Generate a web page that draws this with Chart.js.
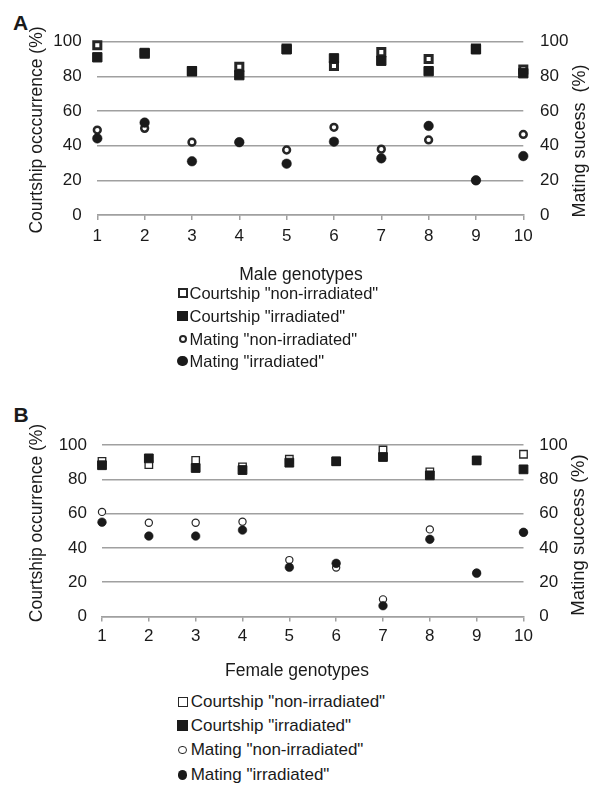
<!DOCTYPE html>
<html><head><meta charset="utf-8">
<script src="https://cdn.jsdelivr.net/npm/chart.js@4.4.1/dist/chart.umd.min.js"></script>
<style>
body{margin:0;background:#fff;}
#page{position:relative;width:597px;height:785px;overflow:hidden;font-family:Arial,"Liberation Sans",sans-serif;color:#1a1a1a;background:#fff;}
canvas{position:absolute;left:0;}
.panel{position:absolute;font-weight:bold;font-size:21px;line-height:21px;}
.leg{position:absolute;left:0;width:597px;height:20px;line-height:20px;white-space:nowrap;}
.mk{position:absolute;box-sizing:border-box;}
.tx{position:absolute;top:0;}
</style></head><body><div id="page">
<div class="panel" style="left:13px;top:12px">A</div>
<div class="panel" style="left:13.5px;top:404px">B</div>
<canvas id="cA" width="597" height="290" style="top:0"></canvas>
<canvas id="cB" width="597" height="300" style="top:390px"></canvas>
<div id="legA"></div><div id="legB"></div>
</div>
<script>
// ---------- data ----------
const genotypes = ['1','2','3','4','5','6','7','8','9','10'];
const yTickValues = [0, 20, 40, 60, 80, 100];
const seriesNames = ['Courtship "non-irradiated"', 'Courtship "irradiated"', 'Mating "non-irradiated"', 'Mating "irradiated"'];

// Panel A - male genotypes
const courtNonIrrA = [98, 93, 83, 85.5, 96, 86, 94, 90, 96, 84];
const courtIrrA    = [91, 93.5, 83, 80.7, 95.6, 90.4, 89, 83, 95.6, 81.8];
const matNonIrrA   = [49, 50, 42, 42, 37.5, 50.6, 38, 43.3, 20, 46.5];
const matIrrA      = [44.2, 53.3, 31, 42, 29.6, 42.3, 32.7, 51.4, 20, 34];

// Panel B - female genotypes
const courtNonIrrB = [90.5, 88.5, 91, 87.2, 91.7, 90.3, 97.1, 84.3, 91, 94.6];
const courtIrrB    = [88.2, 92.2, 86.6, 85.4, 89.7, 90.5, 93, 82.3, 91, 85.8];
const matNonIrrB   = [61, 54.7, 54.7, 55.3, 32.9, 28.5, 10, 50.8, 25.6, 49];
const matIrrB      = [55, 46.9, 46.9, 50.4, 28.7, 31, 6.3, 45, 25.2, 49.1];

const titlesA = {left:'Courtship occcurrence (%)', right:'Mating sucess  (%)', x:'Male genotypes'};
const titlesB = {left:'Courtship occurrence (%)', right:'Mating success (%)', x:'Female genotypes'};

// ---------- styling ----------
const TXT = '#1a1a1a';
const GRID = '#a0a0a0';
const FONT = 'Arial, "Liberation Sans", sans-serif';
Chart.defaults.font.family = FONT;
Chart.defaults.color = TXT;

const titlePlugin = {
  id: 'freeTitles',
  afterDraw(chart, args, opts) {
    const ctx = chart.ctx;
    (opts.items || []).forEach(t => {
      ctx.save();
      ctx.font = t.font;
      ctx.fillStyle = TXT;
      ctx.textAlign = 'center';
      ctx.textBaseline = 'middle';
      ctx.translate(t.x, t.y);
      if (t.rot) ctx.rotate(t.rot);
      ctx.fillText(t.text, 0, 0);
      ctx.restore();
    });
  }
};

const layoutA = {
  left: 97.3, right: 523.3, top: 41.7, xH: 75, lPad: 15.6, rPad: 16.7, xPad: 6,
  m: [{r:5, bw:3}, {r:6.6, bw:1}, {r:3.4, bw:2.5}, {r:4.8, bw:0.5}],
  titles: [
    {key:'left', x:36.7, y:130, rot:-Math.PI/2, size:17.5},
    {key:'right', x:580, y:141, rot:-Math.PI/2, size:18},
    {key:'x', x:301, y:274.7, rot:0, size:17.5}
  ]
};
const layoutB = {
  left: 102, right: 523.5, top: 55, xH: 73.5, lPad: 15, rPad: 15.8, xPad: 4.5,
  m: [{r:5.3, bw:1.3}, {r:6.2, bw:1}, {r:3.6, bw:1.2}, {r:4.3, bw:0.6}],
  titles: [
    {key:'left', x:36.7, y:133, rot:-Math.PI/2, size:17.5},
    {key:'right', x:579, y:145, rot:-Math.PI/2, size:18.5},
    {key:'x', x:297, y:281.5, rot:0, size:17.5}
  ]
};

function makeChart(id, series, titles, L) {
  const styles = [
    {ps:'rect', bg:'#ffffff', bc:'#262626', axis:'y', order:1},
    {ps:'rect', bg:'#1a1a1a', bc:'#1a1a1a', axis:'y', order:0},
    {ps:'circle', bg:'#ffffff', bc:'#262626', axis:'y2', order:1},
    {ps:'circle', bg:'#1a1a1a', bc:'#1a1a1a', axis:'y2', order:0}
  ];
  const datasets = series.map((d, i) => ({
    label: seriesNames[i], data: d, showLine: false, clip: false,
    pointStyle: styles[i].ps, pointRadius: L.m[i].r, pointHoverRadius: L.m[i].r,
    pointBorderWidth: L.m[i].bw, pointBackgroundColor: styles[i].bg,
    pointBorderColor: styles[i].bc, borderColor: styles[i].bc, backgroundColor: styles[i].bg,
    yAxisID: styles[i].axis, order: styles[i].order
  }));
  const setTicks = s => { s.ticks = yTickValues.map(v => ({value: v})); };
  return new Chart(document.getElementById(id), {
    type: 'line',
    data: {labels: genotypes, datasets},
    plugins: [titlePlugin],
    options: {
      responsive: false, animation: false, events: [],
      layout: {padding: {top: L.top, left: 0, right: 0, bottom: 0}},
      plugins: {
        legend: {display: false}, tooltip: {enabled: false},
        freeTitles: {items: L.titles.map(t => ({text: titles[t.key], x: t.x, y: t.y, rot: t.rot, font: t.size + 'px ' + FONT}))}
      },
      scales: {
        x: {
          type: 'category', offset: false,
          grid: {drawOnChartArea: false, drawTicks: true, tickLength: 5, color: GRID, lineWidth: 1.5},
          border: {display: true, color: GRID, width: 1.5},
          ticks: {padding: L.xPad, font: {size: 17}, color: TXT, maxRotation: 0, autoSkip: false},
          afterFit(s) { s.height = L.xH; }
        },
        y: {
          position: 'left', min: 0, max: 100, afterBuildTicks: setTicks,
          grid: {color: GRID, lineWidth: 1.5, drawTicks: false},
          border: {display: false},
          ticks: {padding: L.lPad, font: {size: 17}, color: TXT},
          afterFit(s) { s.width = L.left; }
        },
        y2: {
          position: 'right', min: 0, max: 100, afterBuildTicks: setTicks,
          grid: {display: false, drawTicks: false, drawOnChartArea: false},
          border: {display: false},
          ticks: {padding: L.rPad, font: {size: 17}, color: TXT},
          afterFit(s) { s.width = 597 - L.right; }
        }
      }
    }
  });
}

makeChart('cA', [courtNonIrrA, courtIrrA, matNonIrrA, matIrrA], titlesA, layoutA);
makeChart('cB', [courtNonIrrB, courtIrrB, matNonIrrB, matIrrB], titlesB, layoutB);

// ---------- HTML legends ----------
function buildLegend(id, rows, textLeft, fontSize, marks) {
  const el = document.getElementById(id);
  seriesNames.forEach((name, i) => {
    const row = document.createElement('div');
    row.className = 'leg';
    row.style.top = (rows[i] - 10) + 'px';
    const m = document.createElement('span');
    m.className = 'mk';
    const k = marks[i];
    m.style.width = k.s + 'px'; m.style.height = k.s + 'px';
    m.style.left = (182.5 - k.s / 2) + 'px';
    m.style.top = (10 - k.s / 2) + 'px';
    m.style.background = k.fill ? '#1a1a1a' : '#fff';
    if (!k.fill) m.style.border = k.bw + 'px solid #262626';
    if (k.round) m.style.borderRadius = '50%';
    const t = document.createElement('span');
    t.className = 'tx';
    t.style.left = textLeft + 'px';
    t.style.fontSize = fontSize + 'px';
    t.textContent = name;
    row.appendChild(m); row.appendChild(t);
    el.appendChild(row);
  });
}
buildLegend('legA', [293.3, 316, 338.5, 361], 189.5, 16.5,
  [{s:10, bw:2.5}, {s:10.5, fill:true}, {s:8, bw:2.3, round:true}, {s:10.5, fill:true, round:true}]);
buildLegend('legB', [702, 725.5, 750, 775], 190.7, 17,
  [{s:10, bw:1.2}, {s:10.5, fill:true}, {s:8.5, bw:1.2, round:true}, {s:9.5, fill:true, round:true}]);
</script>
</body></html>
